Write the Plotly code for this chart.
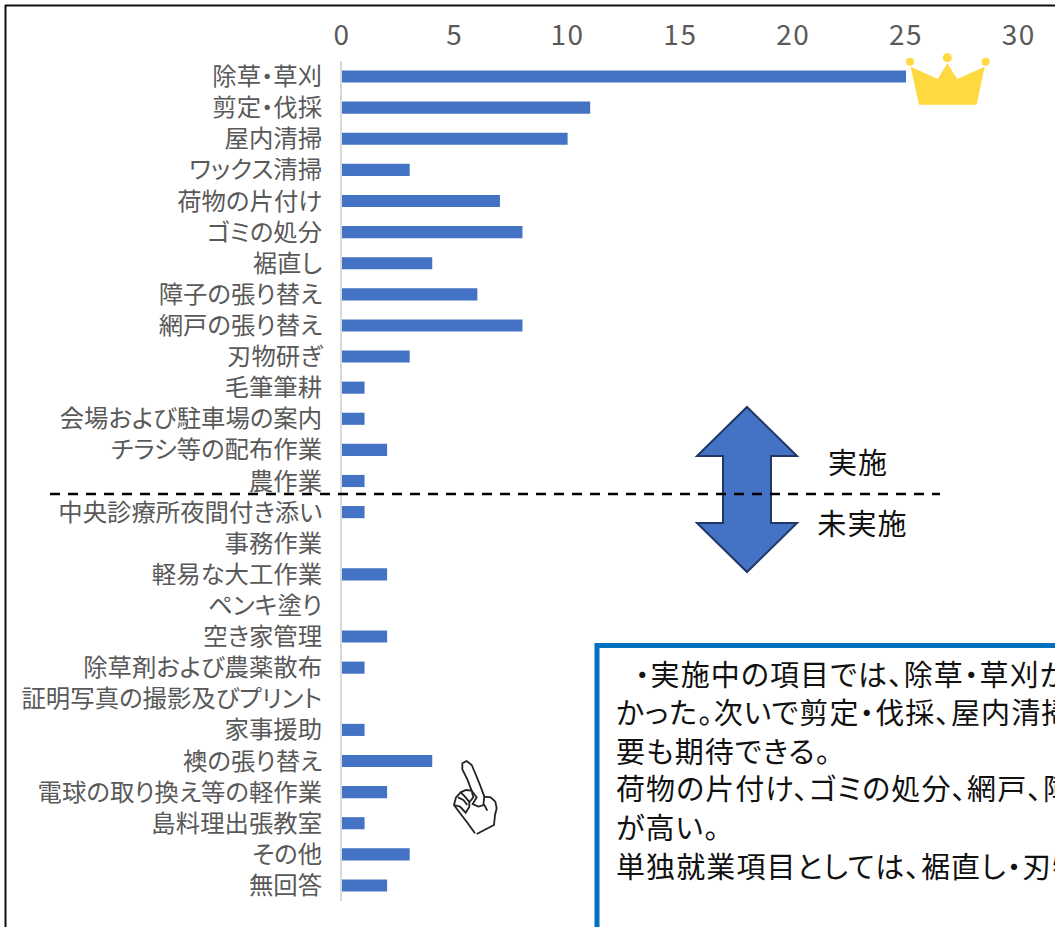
import plotly.graph_objects as go

categories = ["除草・草刈", "剪定・伐採", "屋内清掃", "ワックス清掃", "荷物の片付け", "ゴミの処分", "裾直し",
              "障子の張り替え", "網戸の張り替え", "刃物研ぎ", "毛筆筆耕", "会場および駐車場の案内",
              "チラシ等の配布作業", "農作業", "中央診療所夜間付き添い", "事務作業", "軽易な大工作業",
              "ペンキ塗り", "空き家管理", "除草剤および農薬散布", "証明写真の撮影及びプリント", "家事援助",
              "襖の張り替え", "電球の取り換え等の軽作業", "島料理出張教室", "その他", "無回答"]
values = [25, 11, 10, 3, 7, 8, 4, 6, 8, 3, 1, 1, 2, 1, 1, 0, 2, 0, 2, 1, 0, 1, 4, 2, 1, 3, 2]
tick_values = [0, 5, 10, 15, 20, 25, 30]
box_lines = ["・実施中の項目では、除草・草刈が", "かった。次いで剪定・伐採、屋内清掃", "要も期待できる。",
             "荷物の片付け、ゴミの処分、網戸、障", "が高い。", "単独就業項目としては、裾直し・刃物"]
box_line_y = [675, 713.3, 751.7, 789, 828, 866.7]

W, H = 1055, 927
FONT = "Noto Sans CJK JP"


def px(x):
    return x / W


def py(y):
    return 1 - y / H


def path(points, close=True):
    s = "M " + " L ".join(f"{px(x):.5f},{py(y):.5f}" for x, y in points)
    return s + (" Z" if close else "")


def circle(cx, cy, r, color):
    return dict(type="circle", xref="paper", yref="paper", x0=px(cx - r), x1=px(cx + r), y0=py(cy - r), y1=py(cy + r),
                fillcolor=color, line=dict(width=0))


def shape_path(points, fill=None, line=None, width=0, close=True):
    d = dict(type="path", xref="paper", yref="paper", path=path(points, close), line=dict(width=width))
    if fill:
        d["fillcolor"] = fill
    if line:
        d["line"]["color"] = line
    return d


def line(x0, y0, x1, y1, color, width, dash=None):
    return dict(type="line", xref="paper", yref="paper", x0=px(x0), x1=px(x1), y0=py(y0), y1=py(y1),
                line=dict(color=color, width=width, dash=dash or "solid"))


GOLD = "#FFD940"
crown = [(850 + x / 3, y / 3) for x, y in [(182, 200), (263, 237), (292, 190), (322, 237), (404, 200), (380, 314), (207, 314)]]
arrow = [(747, 407), (797, 456), (771, 456), (771, 523), (797, 523), (747, 572), (697, 523), (723, 523), (723, 456), (697, 456)]


def hand(pts):
    return [(430 + x / 3, 740 + y / 3) for x, y in pts]


hand_strokes = [
    [(135, 280), (110, 245), (92, 222), (72, 195), (78, 172), (92, 157), (108, 150), (125, 152), (112, 118), (97, 88), (97, 70),
     (110, 63), (125, 75), (138, 105), (150, 135), (163, 170), (182, 172), (196, 185), (200, 205), (195, 225), (192, 255), (140, 282)],
    [(92, 157), (105, 170), (118, 186), (130, 172), (125, 152)],
    [(72, 195), (90, 200), (107, 218), (118, 200), (118, 186)],
    [(84, 172), (100, 180), (112, 195)],
    [(125, 152), (140, 172), (128, 192), (145, 200), (163, 195), (172, 212)],
    [(163, 170), (160, 195)],
]

shapes = [
    line(5, 5.5, 1055, 5.5, "#111111", 2),
    line(5.5, 5, 5.5, 927, "#111111", 2),
    dict(type="rect", xref="paper", yref="paper", x0=px(597), x1=px(1075), y0=py(645.5), y1=py(960),
         fillcolor="white", line=dict(color="#0070C0", width=5)),
    shape_path(arrow, fill="#4472C4", line="#1F3864", width=2),
    line(50, 494, 940, 494, "black", 2.5, "10px,8px"),
    shape_path(crown, fill=GOLD),
    circle(850 + 180 / 3, 185 / 3, 4, GOLD),
    circle(850 + 292 / 3, 173 / 3, 4.5, GOLD),
    circle(850 + 407 / 3, 185 / 3, 4, GOLD),
]
for s in hand_strokes:
    shapes.append(shape_path(hand(s), line="#222222", width=1.8, close=False))

annotations = [
    dict(text=t, xref="paper", yref="paper", x=px(633 if i == 0 else 614), y=py(yy - 2), xanchor="left", yanchor="middle",
         align="left", showarrow=False, font=dict(family=FONT, size=29, color="#111111"))
    for i, (t, yy) in enumerate(zip(box_lines, box_line_y))
] + [
    dict(text="実施", xref="paper", yref="paper", x=px(858), y=py(461), xanchor="center", yanchor="middle",
         showarrow=False, font=dict(family=FONT, size=29, color="#111111")),
    dict(text="未実施", xref="paper", yref="paper", x=px(862), y=py(522), xanchor="center", yanchor="middle",
         showarrow=False, font=dict(family=FONT, size=29, color="#111111")),
]

fig = go.Figure(go.Bar(x=values, y=categories, orientation="h", marker=dict(color="#4472C4", line=dict(width=0)), width=0.39))
fig.update_layout(
    width=W, height=H, margin=dict(l=0, r=0, t=0, b=0, autoexpand=False), paper_bgcolor="white", plot_bgcolor="white",
    showlegend=False, shapes=shapes, annotations=annotations, font=dict(family=FONT),
    xaxis=dict(automargin=False, domain=[px(342), 1], range=[0, 713 / 22.56], side="top", tickvals=tick_values, showgrid=False,
               zeroline=False, showline=False, ticks="", ticklabelstandoff=9, tickfont=dict(family=FONT, size=28, color="#595959")),
    yaxis=dict(automargin=False, domain=[py(901), py(61)], type="category", categoryorder="array", categoryarray=categories,
               autorange="reversed", showgrid=False, zeroline=False, showline=True, linecolor="#D9D9D9", linewidth=2, ticks="",
               ticklabelstandoff=13, tickfont=dict(family=FONT, size=24.4, color="#595959")),
)

post = """
var st = document.createElement('style');
st.textContent = 'html,body{margin:0!important;padding:0;overflow:hidden;background:#fff} svg text{font-feature-settings:"palt" 1;} .xtick text{letter-spacing:1.5px;} .annotation-text{letter-spacing:1.1px;} .plotly-graph-div{position:fixed!important;left:0;top:0;}';
document.head.appendChild(st);
"""
fig.write_html("out.html", post_script=post, config={"displayModeBar": False})
